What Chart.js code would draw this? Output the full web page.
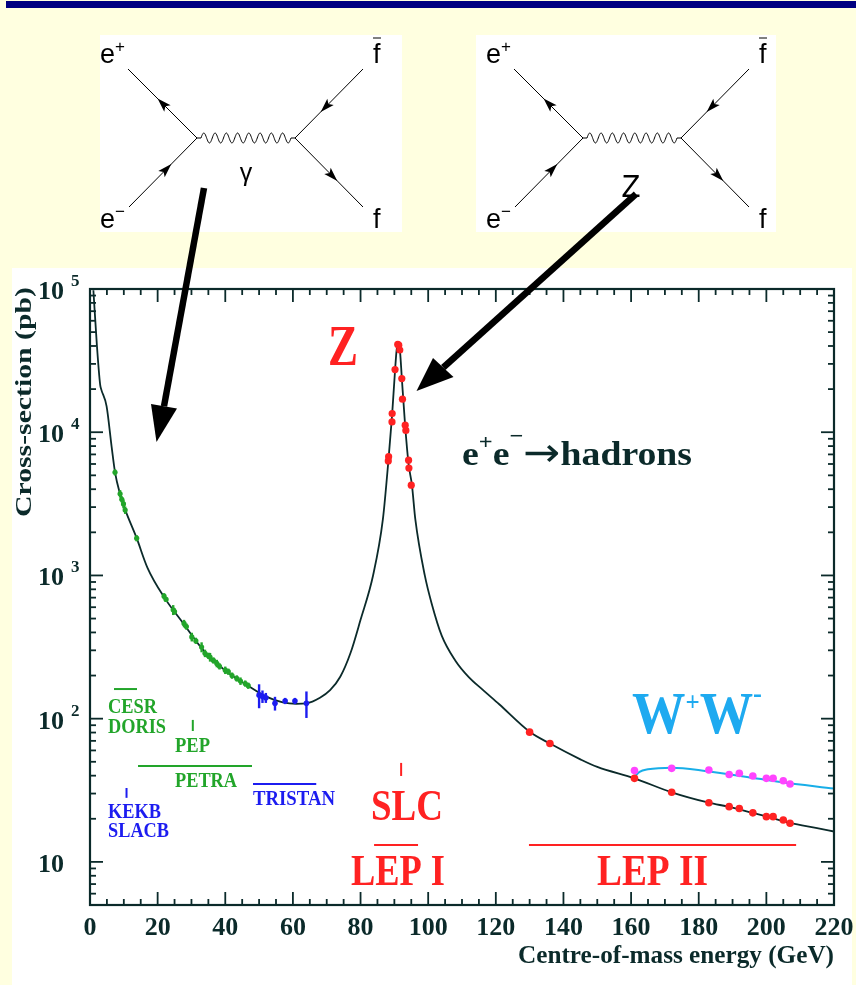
<!DOCTYPE html>
<html>
<head>
<meta charset="utf-8">
<script src="https://cdn.jsdelivr.net/npm/chart.js@4.4.1/dist/chart.umd.min.js"></script>
<style>
html, body { margin: 0; padding: 0; background: #ffffe0; }
#wrap { position: relative; width: 856px; height: 985px; overflow: hidden; }
canvas { display: block; }
</style>
</head>
<body>
<div id="wrap"><canvas id="chart" width="856" height="985"></canvas></div>
<script>
// ========== DATA ==========
// theory curve e+e- -> hadrons (energy GeV, cross-section pb)
const curveE = [1.0, 2.0, 3.0, 3.3, 4.9, 6.4, 7.4, 8.9, 10.4, 13.8, 17, 22, 27.6, 33.5, 40.4, 46.4, 52.3, 57, 61, 64, 68, 71, 74, 77, 80, 83.7, 86.6, 88.3, 89.3, 90.2, 90.7, 91.2, 91.7, 92.2, 93.2, 94.2, 95.2, 96.2, 99, 101, 104, 108, 112, 116, 121, 130, 136, 145, 150, 161, 172, 183, 189, 196, 200, 207, 215, 220];
const curveXsec = [98000, 41700, 21500, 20000, 15200, 7900, 5250, 3700, 2880, 1820, 1130, 700, 462, 301, 213, 172, 142, 130, 127, 128, 140, 158, 196, 286, 490, 1000, 2460, 6600, 12900, 27000, 38000, 41500, 36000, 24000, 11000, 6000, 4270, 2460, 1000, 640, 380, 255, 195, 160, 126, 81, 67, 52, 46, 38.3, 30.6, 25.9, 24.2, 22, 20.8, 18.7, 17.2, 16.3];

// W+W- curve
const wwCurveE = [161, 162.5, 165, 172, 182.4, 194.3, 204.1, 220];
const wwCurveXsec = [39.2, 42.5, 44.3, 45.5, 43, 39.2, 36.1, 32.5];

// low energy data (CESR, DORIS, PEP, PETRA) - green
const greenE = [7.4, 8.9, 9.4, 9.9, 10.4, 13.8, 21.9, 22.5, 24.6, 25.0, 27.8, 28.5, 30.1, 31.3, 33.0, 34.0, 35.0, 35.5, 36.5, 37.5, 38.3, 40.0, 40.9, 42.0, 43.4, 44.5, 45.9, 46.8];
const greenXsec = [5250, 3720, 3400, 3160, 2860, 1820, 716, 680, 575, 560, 462, 440, 372, 350, 316, 286, 275, 269, 255, 243, 232, 218, 213, 200, 191, 183, 176, 170];
const greenErr = [0.05, 0.06, 0.05, 0.07, 0.06, 0.05, 0.05, 0.04, 0.08, 0.05, 0.06, 0.05, 0.07, 0.05, 0.08, 0.06, 0.05, 0.07, 0.05, 0.06, 0.05, 0.06, 0.05, 0.05, 0.05, 0.06, 0.05, 0.05];

// TRISTAN data - blue
const blueE = [50.0, 51.0, 52.0, 54.7, 57.7, 60.6, 64.0];
const blueXsec = [146, 143, 140, 128, 133, 133, 128];
const blueErr = [0.19, 0.10, 0.08, 0.11, 0.05, 0.05, 0.21];

// Z peak scan (SLC / LEP I) - red
const zE = [88.2, 88.3, 89.3, 89.35, 90.2, 91.0, 91.3, 91.6, 92.2, 92.4, 93.2, 93.4, 94.2, 94.3, 95.0];
const zXsec = [6300, 6750, 11800, 13500, 27400, 41000, 40500, 37500, 23700, 17000, 11200, 10300, 6380, 5620, 4270];

// LEP II hadrons - red, W+W- - magenta
const lep2E = [130, 136, 161, 172, 183, 189, 192, 196, 200, 202, 205, 207];
const lep2Xsec = [80.5, 67, 38.3, 30.6, 25.9, 24.3, 23.6, 22.0, 20.7, 20.7, 19.6, 18.6];
const wwE = [161, 172, 183, 189, 192, 196, 200, 202, 205, 207];
const wwXsec = [43.4, 45.0, 43.8, 40.8, 41.5, 39.8, 38.3, 38.3, 36.9, 35.0];

// accelerator energy ranges (from GeV, to GeV, level pb)
const facilityNames = ["CESR", "PEP", "PETRA", "TRISTAN", "KEKB", "SLC", "LEP I", "LEP II"];
const facilityFrom = [7.1, 30.4, 14.2, 48.2, 10.8, 92.0, 84.0, 129.8];
const facilityTo = [13.9, 30.4, 47.9, 66.9, 10.8, 92.0, 97.0, 208.8];
const facilityLow = [161, 82, 46.8, 35, 28, 39.8, 13.1, 13.1];
const facilityHigh = [161, 98, 46.8, 35, 32.8, 49.1, 13.1, 13.1];
const facilityColors = ["#22a52a", "#22a52a", "#22a52a", "#1c1cf0", "#1c1cf0", "#ff2222", "#ff2222", "#ff2222"];

// tick labels
const xTickValues = [0, 20, 40, 60, 80, 100, 120, 140, 160, 180, 200, 220];
const xTickLabels = ["0", "20", "40", "60", "80", "100", "120", "140", "160", "180", "200", "220"];
const yTickValues = [10, 100, 1000, 10000, 100000];
const yTickExponents = ["", "2", "3", "4", "5"];

// ========== STYLE ==========
const SERIF = '"Liberation Serif", "Times New Roman", serif';
const SANS = '"Liberation Sans", Arial, sans-serif';
const INK = "#0b2a2a";
const GREEN = "#22a52a";
const BLUE = "#1c1cf0";
const RED = "#ff2222";

const toXY = (xs, ys) => xs.map((x, i) => ({ x: x, y: ys[i] }));

// ========== HELPERS ==========
function richText(ctx, parts, x, y, width, color) {
    ctx.save();
    let total = 0;
    parts.forEach(p => { ctx.font = p.font; p.w = ctx.measureText(p.t).width; total += p.w; });
    const k = width ? width / total : 1;
    ctx.translate(x, y);
    ctx.scale(k, 1);
    ctx.fillStyle = color;
    ctx.textAlign = "left";
    ctx.textBaseline = "alphabetic";
    let cx = 0;
    parts.forEach(p => { ctx.font = p.font; ctx.fillText(p.t, cx, p.dy || 0); cx += p.w; });
    ctx.restore();
}

function seg(ctx, x1, y1, x2, y2) {
    ctx.beginPath();
    ctx.moveTo(x1, y1);
    ctx.lineTo(x2, y2);
    ctx.stroke();
}

function headAt(ctx, x, y, ang, len, half) {
    ctx.save();
    ctx.translate(x, y);
    ctx.rotate(ang);
    ctx.beginPath();
    ctx.moveTo(len / 2, 0);
    ctx.lineTo(-len / 2, -half);
    ctx.lineTo(-len / 2 + 3, 0);
    ctx.lineTo(-len / 2, half);
    ctx.closePath();
    ctx.fill();
    ctx.restore();
}

function fermion(ctx, x1, y1, x2, y2, t) {
    // line from (x1,y1) to (x2,y2) with arrow pointing toward (x2,y2)
    seg(ctx, x1, y1, x2, y2);
    const ang = Math.atan2(y2 - y1, x2 - x1);
    headAt(ctx, x1 + (x2 - x1) * t, y1 + (y2 - y1) * t, ang, 14, 4.5);
}

function drawDiagram(ctx, ox, boxL, boxR, boson, bosonFont, bosonX, bosonY) {
    ctx.save();
    ctx.fillStyle = "#ffffff";
    ctx.fillRect(boxL, 35, boxR - boxL, 197);
    ctx.strokeStyle = "#000";
    ctx.fillStyle = "#000";
    ctx.lineWidth = 1;
    const vL = [197 + ox, 138], vR = [295 + ox, 138];
    fermion(ctx, vL[0], vL[1], 128 + ox, 69, 0.5);        // e+
    fermion(ctx, 129 + ox, 207, vL[0], vL[1], 0.55);      // e-
    fermion(ctx, 363 + ox, 69, vR[0], vR[1], 0.55);       // f bar
    fermion(ctx, vR[0], vR[1], 363 + ox, 207, 0.55);      // f
    // boson wave
    ctx.beginPath();
    ctx.moveTo(vL[0], vL[1]);
    const x0 = vL[0] + 4, x1 = vR[0] - 4;
    ctx.lineTo(x0, vL[1]);
    const n = 8, steps = 200;
    for (let i = 0; i <= steps; i++) {
        const px = x0 + (x1 - x0) * i / steps;
        const py = vL[1] - 5 * Math.sin(Math.PI * 2 * n * i / steps);
        ctx.lineTo(px, py);
    }
    ctx.lineTo(vR[0], vR[1]);
    ctx.stroke();
    // labels
    richText(ctx, [{ t: "e", font: "27px " + SANS }, { t: "+", font: "17px " + SANS, dy: -11 }], 100 + ox, 63, 0, "#000");
    richText(ctx, [{ t: "e", font: "27px " + SANS }, { t: "\u2212", font: "17px " + SANS, dy: -11 }], 100 + ox, 228, 0, "#000");
    richText(ctx, [{ t: "f", font: "27px " + SANS }], 373 + ox, 63, 0, "#000");
    seg(ctx, 373 + ox, 38, 381 + ox, 38);
    richText(ctx, [{ t: "f", font: "27px " + SANS }], 373 + ox, 228, 0, "#000");
    ctx.font = bosonFont;
    ctx.textAlign = "center";
    ctx.textBaseline = "alphabetic";
    ctx.fillText(boson, bosonX + ox, bosonY);
    ctx.restore();
}

function bigArrow(ctx, x0, y0, tip, b1, b2) {
    ctx.save();
    ctx.strokeStyle = "#000";
    ctx.fillStyle = "#000";
    ctx.lineWidth = 6.5;
    const mx = (b1[0] + b2[0]) / 2, my = (b1[1] + b2[1]) / 2;
    seg(ctx, x0, y0, mx, my);
    ctx.beginPath();
    ctx.moveTo(tip[0], tip[1]);
    ctx.lineTo(b1[0], b1[1]);
    ctx.lineTo(b2[0], b2[1]);
    ctx.closePath();
    ctx.fill();
    ctx.restore();
}

// ========== PLUGINS ==========
const backdrop = {
    id: "backdrop",
    beforeDraw(chart) {
        const ctx = chart.ctx;
        ctx.save();
        ctx.fillStyle = "#ffffe0";
        ctx.fillRect(0, 0, 856, 985);
        ctx.fillStyle = "#000080";
        ctx.fillRect(6, 1, 850, 7);
        ctx.fillStyle = "#ffffff";
        ctx.fillRect(12, 268, 840, 717);
        ctx.restore();
        drawDiagram(ctx, 0, 100, 402, "\u03b3", "25px " + SANS, 246, 181);
        drawDiagram(ctx, 386, 476, 776, "Z", "31px " + SANS, 245, 197);
    }
};

const errorBars = {
    id: "errorBars",
    afterDatasetsDraw(chart) {
        const ctx = chart.ctx, xs = chart.scales.x, ys = chart.scales.y;
        ctx.save();
        ctx.lineWidth = 2.4;
        chart.data.datasets.forEach(ds => {
            if (!ds.errs) return;
            ctx.strokeStyle = ds.borderColor;
            ds.data.forEach((p, i) => {
                const px = xs.getPixelForValue(p.x);
                seg(ctx, px, ys.getPixelForValue(p.y * (1 + ds.errs[i])), px, ys.getPixelForValue(p.y * (1 - ds.errs[i])));
            });
        });
        ctx.restore();
    }
};

const frame = {
    id: "frame",
    afterDraw(chart) {
        const ctx = chart.ctx, xs = chart.scales.x, ys = chart.scales.y;
        const { left, right, top, bottom } = chart.chartArea;
        ctx.save();
        ctx.strokeStyle = INK;
        ctx.lineWidth = 2.2;
        ctx.strokeRect(left, top, right - left, bottom - top);
        ctx.lineWidth = 1.8;
        for (let e = 0; e <= 220; e += 5) {
            const px = xs.getPixelForValue(e);
            const len = e % 20 === 0 ? 13 : 6;
            seg(ctx, px, bottom, px, bottom - len);
            seg(ctx, px, top, px, top + len);
        }
        for (let k = 0; k <= 5; k++) {
            for (let m = 1; m <= 9; m++) {
                const v = m * Math.pow(10, k);
                if (v < 5 || v > 100000) continue;
                const py = ys.getPixelForValue(v);
                const len = m === 1 ? 13 : 6;
                seg(ctx, left, py, left + len, py);
                seg(ctx, right, py, right - len, py);
            }
        }
        // tick labels
        ctx.fillStyle = INK;
        ctx.font = "bold 26px " + SERIF;
        ctx.textAlign = "center";
        ctx.textBaseline = "alphabetic";
        xTickValues.forEach((v, i) => ctx.fillText(xTickLabels[i], xs.getPixelForValue(v), 935));
        yTickValues.forEach((v, i) => {
            const py = ys.getPixelForValue(v);
            ctx.font = "bold 26px " + SERIF;
            ctx.textAlign = "right";
            ctx.fillText("10", 64, py + 10);
            if (yTickExponents[i]) {
                ctx.font = "bold 17px " + SERIF;
                ctx.textAlign = "left";
                ctx.fillText(yTickExponents[i], 71, py - 3);
            }
        });
        // axis titles
        ctx.save();
        ctx.translate(31, 402);
        ctx.rotate(-Math.PI / 2);
        ctx.font = "bold 24px " + SERIF;
        const tw = ctx.measureText("Cross-section (pb)").width;
        ctx.scale(230 / tw, 1);
        ctx.textAlign = "center";
        ctx.fillText("Cross-section (pb)", 0, 0);
        ctx.restore();
        richText(ctx, [{ t: "Centre-of-mass energy (GeV)", font: "bold 25px " + SERIF }], 518, 963, 316, INK);

        // accelerator ranges
        ctx.lineWidth = 2;
        facilityNames.forEach((n, i) => {
            ctx.strokeStyle = facilityColors[i];
            const x1 = xs.getPixelForValue(facilityFrom[i]), x2 = xs.getPixelForValue(facilityTo[i]);
            const y1 = ys.getPixelForValue(facilityLow[i]), y2 = ys.getPixelForValue(facilityHigh[i]);
            seg(ctx, x1, y1, x2, y2);
        });

        // annotations
        const f = (s) => "bold " + s + "px " + SERIF;
        richText(ctx, [{ t: "CESR", font: f(21) }], 108, 713, 49, GREEN);
        richText(ctx, [{ t: "DORIS", font: f(21) }], 108, 733, 58, GREEN);
        richText(ctx, [{ t: "PEP", font: f(21) }], 175, 752, 35, GREEN);
        richText(ctx, [{ t: "PETRA", font: f(21) }], 175, 787, 62, GREEN);
        richText(ctx, [{ t: "TRISTAN", font: f(21) }], 253, 805, 82, BLUE);
        richText(ctx, [{ t: "KEKB", font: f(21) }], 108, 818, 53, BLUE);
        richText(ctx, [{ t: "SLACB", font: f(21) }], 108, 837, 61, BLUE);
        richText(ctx, [{ t: "SLC", font: f(45) }], 371, 820, 72, RED);
        richText(ctx, [{ t: "LEP I", font: f(45) }], 351, 885, 94, RED);
        richText(ctx, [{ t: "LEP II", font: f(45) }], 597, 885, 111, RED);
        richText(ctx, [{ t: "Z", font: f(57) }], 328, 365, 30, RED);
        richText(ctx, [
            { t: "e", font: f(34) },
            { t: "+", font: f(22), dy: -16 },
            { t: "e", font: f(34) },
            { t: "\u2212", font: f(22), dy: -22 },
            { t: "\u2192", font: '40px "DejaVu Sans", sans-serif', dy: 1 },
            { t: "hadrons", font: f(34) }
        ], 462, 465, 230, INK);
        richText(ctx, [
            { t: "W", font: f(60) },
            { t: "+", font: f(28), dy: -22 },
            { t: "W", font: f(60) },
            { t: "-", font: f(30), dy: -30 }
        ], 632, 733, 130, "#1eaaf0");

        ctx.restore();

        // arrows from the diagrams
        bigArrow(ctx, 204, 188, [156.5, 442], [151, 404], [177, 408.5]);
        bigArrow(ctx, 636, 194, [416.5, 391], [433, 358], [453.5, 377]);
    }
};

// ========== CHART ==========
const ctx = document.getElementById("chart").getContext("2d");
new Chart(ctx, {
    type: "line",
    data: {
        datasets: [
            {
                label: "theory",
                data: toXY(curveE, curveXsec),
                borderColor: INK,
                borderWidth: 1.8,
                pointRadius: 0,
                cubicInterpolationMode: "monotone",
                fill: false,
                order: 10
            },
            {
                label: "WW theory",
                data: toXY(wwCurveE, wwCurveXsec),
                borderColor: "#18aee8",
                borderWidth: 2,
                pointRadius: 0,
                cubicInterpolationMode: "monotone",
                fill: false,
                order: 9
            },
            {
                label: "low energy",
                data: toXY(greenE, greenXsec),
                errs: greenErr,
                showLine: false,
                borderColor: GREEN,
                backgroundColor: GREEN,
                pointRadius: 2.6,
                pointBorderWidth: 0,
                order: 1
            },
            {
                label: "TRISTAN",
                data: toXY(blueE, blueXsec),
                errs: blueErr,
                showLine: false,
                borderColor: BLUE,
                backgroundColor: BLUE,
                pointRadius: 2.8,
                pointBorderWidth: 0,
                order: 1
            },
            {
                label: "Z scan",
                data: toXY(zE, zXsec),
                showLine: false,
                borderColor: RED,
                backgroundColor: RED,
                pointRadius: 3.6,
                pointBorderWidth: 0,
                order: 0
            },
            {
                label: "LEP II",
                data: toXY(lep2E, lep2Xsec),
                showLine: false,
                borderColor: RED,
                backgroundColor: RED,
                pointRadius: 3.8,
                pointBorderWidth: 0,
                order: 0
            },
            {
                label: "WW",
                data: toXY(wwE, wwXsec),
                showLine: false,
                borderColor: "#ff44ff",
                backgroundColor: "#ff44ff",
                pointRadius: 3.8,
                pointBorderWidth: 0,
                order: 0
            }
        ]
    },
    options: {
        responsive: false,
        animation: false,
        layout: { padding: { left: 90, right: 22, top: 289, bottom: 80 } },
        scales: {
            x: { type: "linear", min: 0, max: 220, display: false },
            y: { type: "logarithmic", min: 5, max: 100000, display: false }
        },
        plugins: { legend: { display: false }, tooltip: { enabled: false } }
    },
    plugins: [backdrop, errorBars, frame]
});
</script>
</body>
</html>
